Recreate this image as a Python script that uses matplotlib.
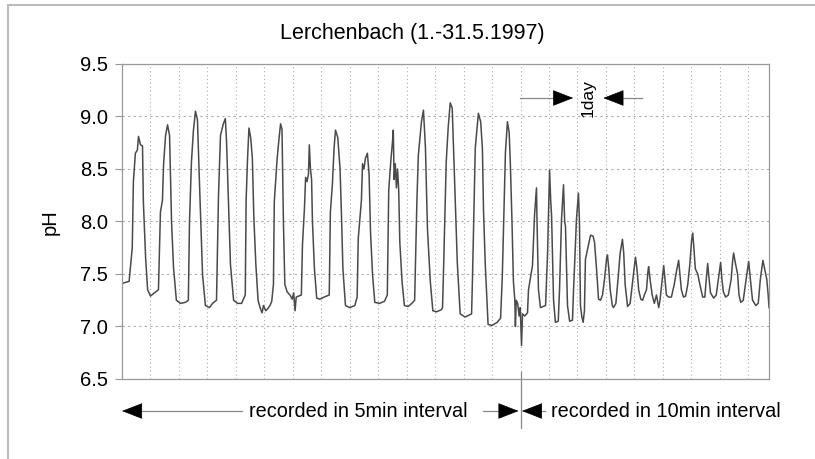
import numpy as np
import matplotlib
matplotlib.use("Agg")
import matplotlib.pyplot as plt
from matplotlib.patches import Rectangle

plt.rcParams['font.family'] = ['Liberation Sans', 'DejaVu Sans']

# time in days since 1 May 1997, pH read off the chart
# days 1-14: 5 min samples, days 15-31: 10 min samples
t_days = [
    0.00, 0.25, 0.36, 0.40, 0.47, 0.54, 0.58, 0.65, 0.72, 0.75, 0.83, 0.90, 1.00, 1.14,
    1.28, 1.35, 1.42, 1.46, 1.53, 1.60, 1.67, 1.74, 1.81, 1.91, 2.05, 2.23,
    2.33, 2.37, 2.44, 2.51, 2.58, 2.65, 2.72, 2.83, 2.93, 3.07, 3.18,
    3.32, 3.39, 3.46, 3.56, 3.63, 3.67, 3.74, 3.81, 3.92, 4.06,
    4.20, 4.33, 4.36, 4.41, 4.46, 4.52, 4.58, 4.63, 4.70, 4.78, 4.85, 4.92, 4.97, 5.05, 5.12, 5.20, 5.26,
    5.32, 5.35, 5.45, 5.52, 5.57, 5.62, 5.67, 5.72, 5.80, 5.90, 5.98, 6.03, 6.08, 6.12,
    6.30, 6.34, 6.41, 6.45, 6.50, 6.55, 6.58, 6.62, 6.66, 6.69, 6.76, 6.84, 6.95, 7.10,
    7.28, 7.32, 7.39, 7.45, 7.50, 7.58, 7.66, 7.71, 7.76, 7.85, 8.00, 8.18,
    8.26, 8.30, 8.41, 8.45, 8.50, 8.55, 8.62, 8.68, 8.73, 8.80, 8.88, 9.05, 9.22,
    9.32, 9.37, 9.45, 9.50, 9.53, 9.56, 9.60, 9.64, 9.68, 9.72, 9.76, 9.84, 9.92, 10.05, 10.18,
    10.28, 10.31, 10.36, 10.41, 10.52, 10.59, 10.66, 10.73, 10.83, 10.92, 11.05, 11.22,
    11.26, 11.29, 11.39, 11.46, 11.53, 11.60, 11.64, 11.71, 11.78, 11.88, 12.05, 12.20,
    12.28, 12.31, 12.41, 12.52, 12.60, 12.66, 12.70, 12.76, 12.86, 13.00, 13.18,
    13.30, 13.36, 13.47, 13.54, 13.60, 13.64, 13.70, 13.75, 13.80, 13.82, 13.85, 13.90, 13.95, 13.99,
    14.07, 14.14, 14.30, 14.49, 14.56, 14.84, 14.98, 15.12, 15.16, 15.26, 15.40, 15.76,
    15.90, 16.04, 16.12, 16.18, 16.32, 16.45, 16.65,
    16.74, 16.88, 17.02, 17.10, 17.16, 17.30, 17.45, 17.65,
    17.72, 17.93, 18.07, 18.14, 18.21, 18.30, 18.40, 18.49,
    18.56, 18.78, 18.92, 19.10, 19.20, 19.34, 19.48, 19.62, 19.76,
    19.90, 20.05, 20.11, 20.20, 20.30, 20.45, 20.53, 20.70,
    20.85, 21.00, 21.16, 21.25, 21.35, 21.52, 21.70,
    21.85, 21.98, 22.08, 22.18, 22.30, 22.45, 22.58, 22.70,
    22.85, 22.95, 23.00, 23.10, 23.25, 23.40, 23.55, 23.71, 23.80,
    23.92, 24.00, 24.06, 24.15, 24.25, 24.41, 24.60,
    24.80, 24.95, 25.11, 25.20, 25.30, 25.45, 25.60,
    25.75, 25.90, 26.02, 26.10, 26.18, 26.28, 26.45, 26.60, 26.80, 26.95,
    27.05, 27.15, 27.25, 27.35, 27.57, 27.75,
    27.90, 28.06, 28.15, 28.25, 28.41, 28.60,
    28.80, 28.90, 28.97, 29.10, 29.25, 29.35, 29.47, 29.65,
    29.85, 30.03, 30.15, 30.30, 30.53, 30.70,
    30.85, 31.03, 31.15, 31.30, 31.40, 31.46,
]
ph = [
    7.41, 7.43, 7.75, 8.38, 8.65, 8.68, 8.81, 8.73, 8.72, 8.19, 7.65, 7.35, 7.29, 7.32,
    7.35, 8.09, 8.20, 8.54, 8.82, 8.92, 8.82, 8.00, 7.56, 7.25, 7.22, 7.23,
    7.25, 7.99, 8.57, 8.87, 9.05, 8.97, 8.38, 7.49, 7.20, 7.18, 7.22,
    7.25, 8.25, 8.82, 8.93, 8.98, 8.78, 8.20, 7.59, 7.25, 7.22,
    7.22, 7.30, 8.20, 8.60, 8.89, 8.80, 8.60, 8.05, 7.60, 7.25, 7.18, 7.13, 7.20, 7.15, 7.17, 7.20, 7.24,
    7.40, 8.19, 8.60, 8.80, 8.93, 8.88, 8.00, 7.40, 7.33, 7.30, 7.26, 7.32, 7.15, 7.28,
    7.30, 7.78, 8.13, 8.42, 8.38, 8.45, 8.73, 8.50, 8.40, 8.00, 7.55, 7.27, 7.26, 7.28,
    7.30, 8.09, 8.35, 8.70, 8.87, 8.80, 8.50, 8.06, 7.55, 7.20, 7.18, 7.20,
    7.28, 7.84, 8.20, 8.55, 8.50, 8.60, 8.65, 8.45, 7.90, 7.50, 7.23, 7.22, 7.24,
    7.30, 8.30, 8.60, 8.75, 8.87, 8.40, 8.55, 8.32, 8.50, 8.30, 7.80, 7.42, 7.20, 7.19, 7.22,
    7.25, 7.61, 8.20, 8.63, 8.95, 9.06, 8.70, 7.93, 7.43, 7.15, 7.14, 7.16,
    7.18, 7.48, 8.57, 8.90, 9.13, 9.08, 8.75, 8.20, 7.60, 7.12, 7.09, 7.11,
    7.12, 7.43, 8.70, 9.03, 8.95, 8.70, 8.10, 7.60, 7.02, 7.01, 7.04,
    7.08, 7.48, 8.66, 8.95, 8.85, 8.57, 8.00, 7.43, 7.25, 7.00, 7.25, 7.22, 7.10, 7.18,
    6.82, 7.12, 7.10, 7.13, 7.35, 7.58, 8.05, 8.32, 8.00, 7.35, 7.18, 7.20,
    7.70, 8.49, 8.20, 8.06, 7.25, 7.04, 7.05,
    7.35, 8.02, 8.35, 8.00, 7.95, 7.20, 7.05, 7.06,
    7.33, 8.02, 8.27, 8.00, 7.20, 7.10, 7.04, 7.15,
    7.64, 7.78, 7.87, 7.86, 7.80, 7.55, 7.26, 7.25, 7.30,
    7.45, 7.65, 7.68, 7.55, 7.35, 7.20, 7.18, 7.22,
    7.45, 7.70, 7.83, 7.70, 7.40, 7.19, 7.22,
    7.40, 7.55, 7.66, 7.55, 7.35, 7.26, 7.25, 7.30,
    7.35, 7.52, 7.57, 7.45, 7.30, 7.22, 7.30, 7.18, 7.25,
    7.40, 7.50, 7.58, 7.45, 7.30, 7.28, 7.28,
    7.40, 7.52, 7.63, 7.50, 7.35, 7.28, 7.29,
    7.40, 7.60, 7.82, 7.89, 7.75, 7.55, 7.50, 7.40, 7.28, 7.28,
    7.45, 7.60, 7.45, 7.32, 7.27, 7.30,
    7.45, 7.61, 7.45, 7.33, 7.28, 7.30,
    7.45, 7.62, 7.70, 7.60, 7.50, 7.30, 7.23, 7.25,
    7.45, 7.62, 7.45, 7.25, 7.20, 7.22,
    7.45, 7.63, 7.55, 7.45, 7.30, 7.18,
]

switch_day = 14.0  # from here on samples are 10 min apart

t = np.array(t_days)
# x axis is sample index: one grid step = 288 samples (one 5 min day)
x = np.where(t <= switch_day, t, switch_day + (t - switch_day) / 2)

fig = plt.figure(figsize=(8.15, 4.59), dpi=100)
ax = fig.add_axes([0.1497, 0.1743, 0.7939, 0.6863])

ax.plot(x, ph, color='#4a4a4a', lw=1.1)

ax.set_xlim(0, 22.73)
ax.set_ylim(6.5, 9.5)
ax.set_xticks(np.arange(1, 23))
yt = np.arange(6.5, 9.51, 0.5)
ax.set_yticks(yt)
ax.set_yticklabels(['%.1f' % v for v in yt], fontsize=14.5)
ax.tick_params(axis='x', length=0, labelbottom=False)
ax.tick_params(axis='y', length=5, width=0.8, color='#999999', pad=5)
ax.grid(axis='x', color='#aaaaaa', ls=(0, (1, 2.5)), lw=0.8)
ax.grid(axis='y', color='#aaaaaa', ls=(0, (2, 3)), lw=0.8)
for s in ax.spines.values():
    s.set_color('#999999')
    s.set_linewidth(0.9)

fig.text(0.506, 0.928, 'Lerchenbach (1.-31.5.1997)', ha='center', va='center', fontsize=15.5)
fig.text(0.061, 0.516, 'pH', rotation=90, ha='center', va='center', fontsize=14.5)

# outer frame
fig.patches.append(Rectangle((0.0098, -0.5), 1.5, 1.489, transform=fig.transFigure,
                             fill=False, edgecolor='#bbbbbb', lw=1.5))

# bottom annotation
tr = ax.get_xaxis_transform()
ay = -0.1016
hs = '-|>,head_length=0.9,head_width=0.35'
ax.plot([0.3, 4.23], [ay, ay], transform=tr, color='#888888', lw=0.9, clip_on=False)
ax.annotate('', xy=(0, ay), xytext=(0.5, ay), xycoords=tr, textcoords=tr,
            arrowprops=dict(arrowstyle=hs, color='black', lw=0.5,
                            shrinkA=0, shrinkB=0, mutation_scale=15))
ax.text(4.45, ay, 'recorded in 5min interval', transform=tr, ha='left', va='center',
        fontsize=14.3)
ax.plot([12.68, 13.5], [ay, ay], transform=tr, color='#888888', lw=0.9, clip_on=False)
ax.annotate('', xy=(13.93, ay), xytext=(13.45, ay), xycoords=tr, textcoords=tr,
            arrowprops=dict(arrowstyle=hs, color='black', lw=0.5,
                            shrinkA=0, shrinkB=0, mutation_scale=15))
ax.plot([14.5, 14.87], [ay, ay], transform=tr, color='#888888', lw=0.9, clip_on=False)
ax.annotate('', xy=(14.05, ay), xytext=(14.55, ay), xycoords=tr, textcoords=tr,
            arrowprops=dict(arrowstyle=hs, color='black', lw=0.5,
                            shrinkA=0, shrinkB=0, mutation_scale=15))
ax.plot([switch_day, switch_day], [0.022, -0.156], transform=tr, color='#888888', lw=0.9,
        clip_on=False)
ax.text(15.08, ay, 'recorded in 10min interval', transform=tr, ha='left', va='center',
        fontsize=14.3)

# one day marker
dy = 9.176
ax.plot([13.99, 15.4], [dy, dy], color='#888888', lw=0.9)
ax.annotate('', xy=(15.85, dy), xytext=(15.35, dy),
            arrowprops=dict(arrowstyle=hs, color='black', lw=0.5,
                            shrinkA=0, shrinkB=0, mutation_scale=15))
ax.plot([17.4, 18.27], [dy, dy], color='#888888', lw=0.9)
ax.annotate('', xy=(16.91, dy), xytext=(17.41, dy),
            arrowprops=dict(arrowstyle=hs, color='black', lw=0.5,
                            shrinkA=0, shrinkB=0, mutation_scale=15))
ax.text(16.38, dy, '1day', rotation=90, ha='center', va='center', fontsize=12.5)

fig.savefig('out.png', dpi=100)
